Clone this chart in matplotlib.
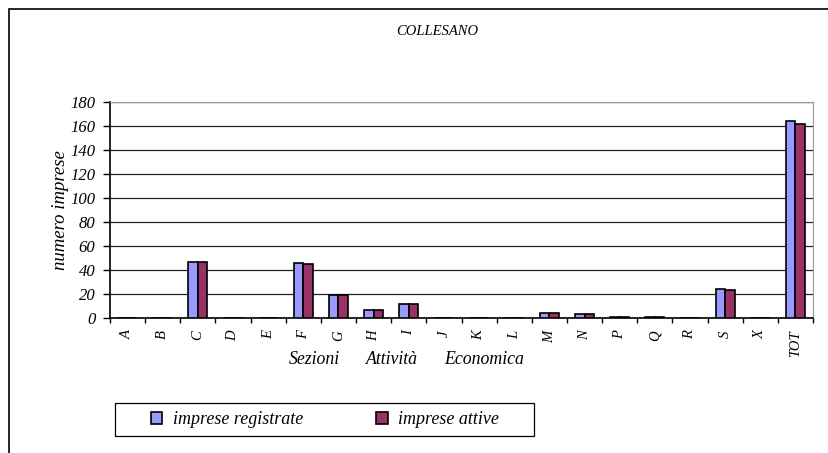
import matplotlib.pyplot as plt
import numpy as np
from matplotlib.patches import Rectangle

categories = ['A', 'B', 'C', 'D', 'E', 'F', 'G', 'H', 'I', 'J', 'K', 'L',
              'M', 'N', 'P', 'Q', 'R', 'S', 'X', 'TOT']
registrate = [0, 0, 47, 0, 0, 46, 19, 7, 12, 0, 0, 0, 4, 3, 1, 1, 0, 24, 0, 164]
attive = [0, 0, 47, 0, 0, 45, 19, 7, 12, 0, 0, 0, 4, 3, 1, 1, 0, 23, 0, 162]
xlabel_words = ['Sezioni', 'Attività', 'Economica']

plt.rcParams['font.family'] = ['Liberation Serif', 'DejaVu Serif']
plt.rcParams['font.style'] = 'italic'

fig = plt.figure(figsize=(8.29, 4.53), dpi=100)
ax = fig.add_axes([0.1327, 0.298, 0.848, 0.477])

x = np.arange(len(categories))
w = 0.27
ax.bar(x - w / 2, registrate, w, color='#9999FF', edgecolor='black', linewidth=1.2,
       label='imprese registrate', zorder=3)
ax.bar(x + w / 2, attive, w, color='#993366', edgecolor='black', linewidth=1.2,
       label='imprese attive', zorder=3)

ax.set_xlim(-0.5, len(categories) - 0.5)
ax.set_ylim(0, 180)
ax.set_yticks(np.arange(0, 181, 20))
ax.yaxis.grid(True, color='#222222', linewidth=0.9, zorder=0)
ax.set_xticks(x)
ax.set_xticklabels(categories, rotation=90, fontsize=10.5)
ax.tick_params(axis='x', length=0, pad=9)
ax.set_xticks(np.arange(-0.5, len(categories)), minor=True)
ax.tick_params(axis='x', which='minor', length=3.5, width=1, direction='out')
ax.tick_params(axis='y', labelsize=12, length=5, width=1, direction='out', pad=5.5)

for s in ['top', 'right']:
    ax.spines[s].set_color('#999999')
ax.spines['left'].set_linewidth(1.2)
ax.spines['bottom'].set_linewidth(1.2)

ax.set_ylabel('numero imprese', fontsize=13.5)
ax.yaxis.set_label_coords(-0.058, 0.5)

fig.text(0.528, 0.93, 'COLLESANO', ha='center', va='center', fontsize=10.5)

# x axis title, three spaced words
for word, xc in zip(xlabel_words, [314, 391.5, 484]):
    fig.text(xc / 829, 0.2075, word, ha='center', va='center', fontsize=12.8)

leg = fig.legend(loc='center', bbox_to_anchor=(0.3920, 0.074), ncol=2, frameon=False,
                 fontsize=13, columnspacing=4.0, handlelength=0.65, handleheight=0.65,
                 handletextpad=0.6)

# legend box
fig.add_artist(Rectangle((115 / 829, 1 - 436 / 453), 419 / 829, 33 / 453,
                         transform=fig.transFigure, fill=False, edgecolor='black',
                         linewidth=0.9))

# outer chart frame (left and top edges visible)
fig.add_artist(Rectangle((9 / 829, -0.05), 1.2, 1 - 9 / 453 + 0.05, transform=fig.transFigure,
                         fill=False, edgecolor='black', linewidth=1.2))

fig.savefig('out.png', dpi=100)
